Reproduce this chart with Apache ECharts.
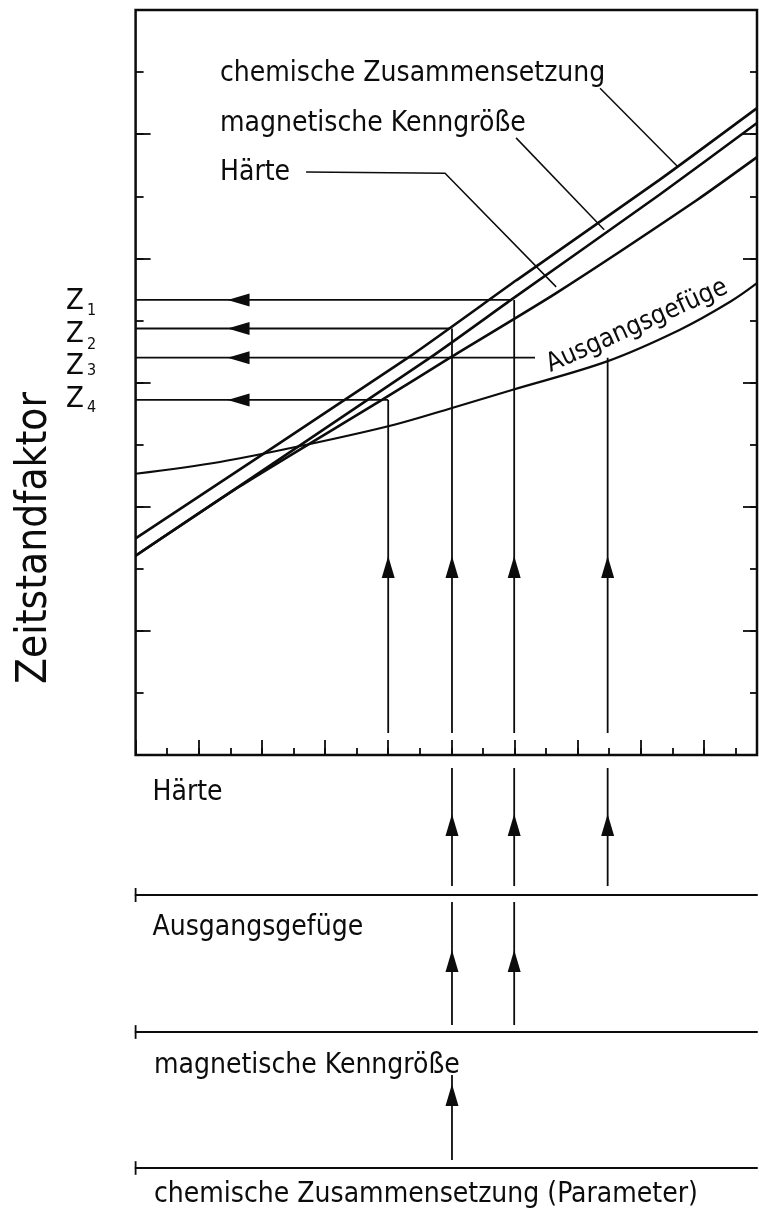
<!DOCTYPE html>
<html><head><meta charset="utf-8">
<script src="https://cdn.jsdelivr.net/npm/echarts@6/dist/echarts.min.js"></script>
<style>html,body{margin:0;padding:0;background:#fff}#c{width:759px;height:1209px}</style>
</head><body><div id="c"></div>
<script>
// ---------------- data ----------------
const xMax = 19.68, yMax = 12;
const chemLine    = [[0,3.49],[8.63,6.40],[12.07,7.65],[16.58,9.26],[19.68,10.42]];
const magnLine    = [[0,3.21],[9.33,6.40],[11.89,7.33],[16.58,9.02],[19.68,10.18]];
const haerteLine  = [[0,3.21],[3.31,4.33],[7.80,5.72],[9.96,6.40],[13.32,7.44],[17.78,8.94],[19.68,9.63]];
const gefuegeCurve= [[0,4.53],[2.67,4.72],[5.52,5.01],[8.19,5.32],[10.02,5.59],[11.92,5.88],[14.93,6.34],[17.24,6.85],[18.83,7.30],[19.68,7.60]];
// parameters, in order of their axes from top (main x axis) to bottom
const paramNames   = ['Härte','Ausgangsgefüge','magnetische Kenngröße','chemische Zusammensetzung (Parameter)'];
const paramX       = [8.00, 14.95, 11.99, 10.02];
const paramZ       = [5.72, 6.40, 7.33, 6.87];
const paramZEnd    = [8.00, 12.65, 11.86, 9.93];   // where the read-out line starts
const zLabels      = ['Z4','Z3','Z1','Z2'];
const curveLabels  = ['chemische Zusammensetzung','magnetische Kenngröße','Härte'];
const chemLeader   = [[14.71,10.74],[17.18,9.47]];
const magnLeader   = [[12.05,9.94],[14.84,8.46]];
const haerteLeader = [[5.40,9.39],[9.80,9.37],[13.32,7.54]];

// ---------------- layout ----------------
const INK = '#0c0c0c';
const FONT = '"DejaVu Sans Condensed","Liberation Sans Narrow","DejaVu Sans",sans-serif';
const L = 135.6, W = 621.4;
const mainArrowBase = 0.354, mainArrowHead = 3.03, hArrowX = 3.26;
const panelSpans = [[0.064,0.907],[0.051,0.949],[0.059,0.684]];
const panelHeads = [0.5,0.518,0.537];

const grid = [
  {left:L, top:10, width:W, height:745, show:true, borderColor:INK, borderWidth:2.5},
  {left:L, top:755, width:W, height:140},
  {left:L, top:895, width:W, height:137},
  {left:L, top:1032, width:W, height:136}
];
const tickAxis = (dimMax, interval, len, pos) => ({
  gridIndex:0, type:'value', min:0, max:dimMax, interval, position:pos,
  axisLine:{show:false, onZero:false}, axisLabel:{show:false}, splitLine:{show:false},
  axisTick:{show:true, inside:true, length:len, lineStyle:{color:INK, width:1.8}}
});
const xAxis = [tickAxis(xMax,1,7,'bottom'), tickAxis(xMax,2,15,'bottom')];
const yAxis = [tickAxis(yMax,1,8,'left'), tickAxis(yMax,2,15,'left'), tickAxis(yMax,1,7,'right'), tickAxis(yMax,2,14,'right')];
for (let g=1; g<=3; g++){
  xAxis.push({gridIndex:g, type:'value', min:0, max:xMax, position:'bottom',
    axisLine:{show:true, onZero:false, lineStyle:{color:INK,width:2}}, axisTick:{show:false}, axisLabel:{show:false}, splitLine:{show:false}});
  yAxis.push({gridIndex:g, type:'value', min:0, max:1, show:false});
}
const series = [];
function poly(data, w, xi, yi, smooth, clip){
  series.push({type:'line', xAxisIndex:xi||0, yAxisIndex:yi||0, data, symbol:'none', smooth:smooth||false,
    clip: clip!==false, silent:true, animation:false, lineStyle:{color:INK, width:w}, z:3});
}
poly(chemLine, 2.6, 0, 0, 0.2);
poly(magnLine, 2.6, 0, 0, 0.2);
poly(haerteLine, 2.6, 0, 0, 0.2);
poly(gefuegeCurve, 2.2, 0, 0, 0.35);
poly(chemLeader, 1.5); poly(magnLeader, 1.5); poly(haerteLeader, 1.5);

const mainHeads = [];
paramX.forEach((x,i)=>{
  const z = paramZ[i];
  poly([[paramZEnd[i], z],[0, z]], 1.8);
  poly([[x, mainArrowBase],[x, z]], 1.8);
  mainHeads.push({value:[hArrowX, z], symbolRotate:90});
  mainHeads.push({value:[x, mainArrowHead], symbolRotate:0});
});
const headStyle = {type:'scatter', symbol:'triangle', symbolSize:[13,22], silent:true, animation:false,
  itemStyle:{color:INK, opacity:1}, z:4};
series.push(Object.assign({xAxisIndex:0, yAxisIndex:0, data:mainHeads}, headStyle));

for (let k=1; k<=3; k++){
  const heads = [];
  for (let i=k; i<paramX.length; i++){
    poly([[paramX[i], panelSpans[k-1][0]],[paramX[i], panelSpans[k-1][1]]], 1.8, k+1, k+3);
    heads.push({value:[paramX[i], panelHeads[k-1]], symbolRotate:0});
  }
  series.push(Object.assign({xAxisIndex:k+1, yAxisIndex:k+3, data:heads}, headStyle));
  poly([[0,-0.05],[0,0.05]], 1.8, k+1, k+3, false, false);
}

// ---------------- texts ----------------
const txt = (text, x, y, size, extra) => Object.assign({type:'text', x, y, silent:true,
  style:{text, font:`${size}px ${FONT}`, fill:INK, align:'left', verticalAlign:'middle'}}, extra||{});
const graphic = [
  txt('Zeitstandfaktor', 35, 538, 42, {rotation:Math.PI/2}),
  txt(curveLabels[0], 220, 73.5, 28),
  txt(curveLabels[1], 220, 123.5, 28),
  txt(curveLabels[2], 220, 173, 28),
  txt(paramNames[0], 152.5, 793, 28),
  txt(paramNames[1], 152.5, 928, 28),
  txt(paramNames[2], 154, 1066, 28),
  txt(paramNames[3], 154, 1195, 28),
  txt(paramNames[1], 637, 326, 26, {rotation:0.42})
];
graphic[8].style.align = 'center';
graphic[0].style.align = 'center';
const zCapY = {Z1:301, Z2:334, Z3:366, Z4:399};
const zSubY = {Z1:311, Z2:345, Z3:371, Z4:408};
zLabels.forEach(z=>{
  graphic.push(txt('Z', 66, zCapY[z], 29));
  graphic.push(txt(z.slice(1), 87, zSubY[z], 16));
});

const chart = echarts.init(document.getElementById('c'));
chart.setOption({backgroundColor:'#fff', animation:false, grid, xAxis, yAxis, series, graphic});
</script></body></html>
